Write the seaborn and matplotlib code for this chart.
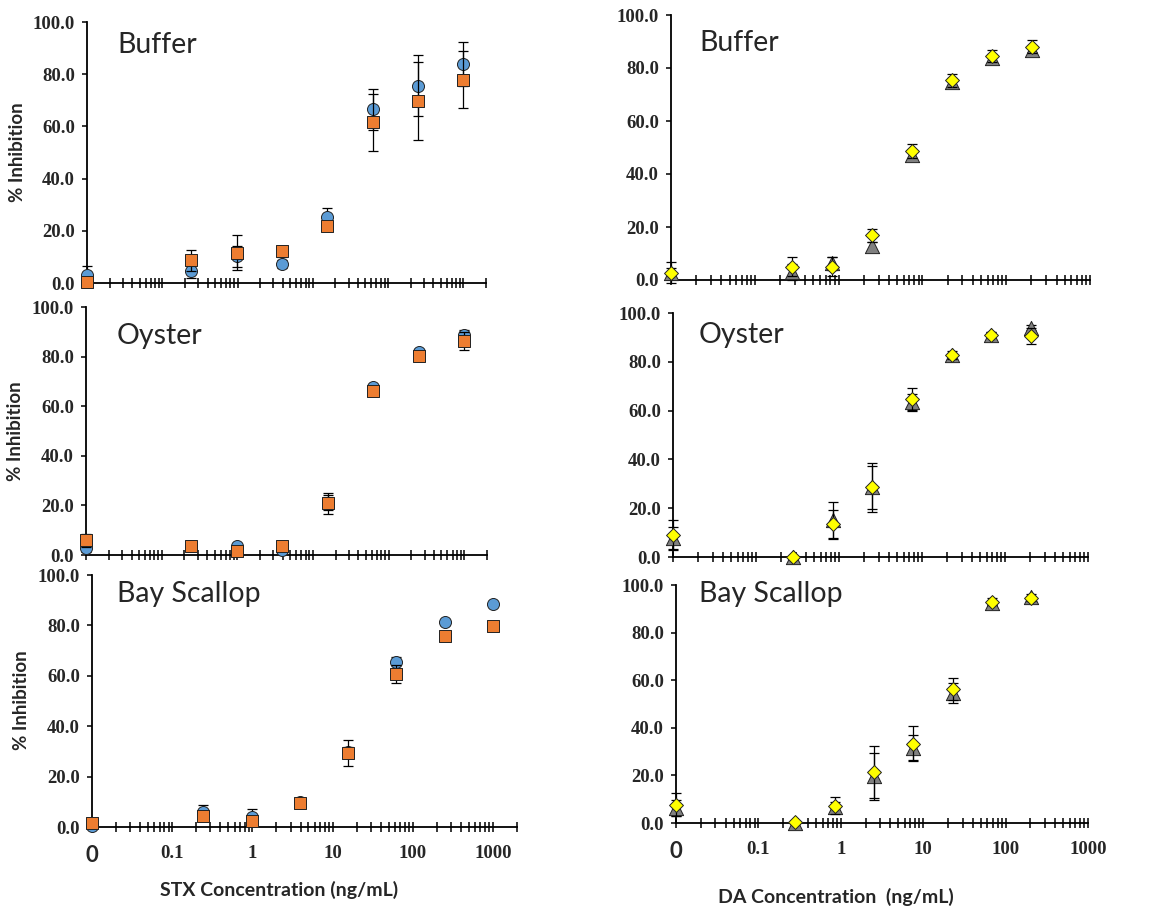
import numpy as np
import matplotlib
matplotlib.use("Agg")
import matplotlib.pyplot as plt
import seaborn as sns
from matplotlib.ticker import FixedLocator, NullFormatter

# --- data ("0" is drawn at 0.01 on the log axis) ---
stx_conc = [0.01, 0.244, 0.977, 3.91, 15.6, 62.5, 250, 1000]
da_conc = [0.01, 0.28, 0.84, 2.53, 7.6, 22.8, 68.5, 205]

buffer_stx_circle = [3.2, 4.6, 10.2, 7.2, 25.1, 66.5, 75.6, 83.8]
buffer_stx_circle_sd = [3.3, 2.6, 4.0, 1.5, 3.8, 8.0, 11.7, 8.4]
buffer_stx_square = [0.4, 8.7, 11.6, 12.1, 22.0, 61.6, 69.8, 77.9]
buffer_stx_square_sd = [1.0, 4.1, 6.6, 2.0, 1.5, 11.0, 15.0, 11.0]

oyster_stx_circle = [2.8, 3.5, 3.5, 1.9, 21.0, 67.6, 81.9, 88.6]
oyster_stx_circle_sd = [1.5, 1.0, 1.0, 1.0, 3.0, 1.0, 1.0, 2.0]
oyster_stx_square = [5.9, 3.5, 1.7, 3.5, 20.8, 66.2, 80.4, 86.2]
oyster_stx_square_sd = [2.7, 1.5, 1.0, 1.0, 4.2, 1.0, 1.0, 3.7]

scallop_stx_circle = [0.3, 6.0, 4.0, 10.0, 29.8, 65.3, 81.2, 88.5]
scallop_stx_circle_sd = [0.5, 2.6, 3.3, 1.5, 2.0, 2.3, 1.0, 0.5]
scallop_stx_square = [1.6, 4.2, 2.4, 9.7, 29.4, 60.7, 75.9, 79.6]
scallop_stx_square_sd = [0.5, 1.0, 1.0, 1.5, 5.0, 3.4, 1.0, 0.5]

buffer_da_tri = [2.5, 3.1, 6.3, 12.8, 47.2, 74.6, 83.8, 86.9]
buffer_da_tri_sd = [2.0, 3.0, 2.5, 1.5, 1.5, 1.5, 1.5, 1.0]
buffer_da_dia = [2.8, 5.0, 5.0, 16.9, 48.7, 75.3, 84.6, 88.0]
buffer_da_dia_sd = [4.1, 3.6, 3.6, 2.4, 2.7, 2.5, 2.3, 2.4]

oyster_da_tri = [7.6, 0.0, 15.0, 28.5, 63.6, 82.7, 91.1, 94.0]
oyster_da_tri_sd = [4.5, 0.5, 7.4, 8.9, 3.4, 1.0, 1.0, 1.0]
oyster_da_dia = [9.0, 0.0, 13.4, 28.5, 64.7, 82.8, 91.1, 90.7]
oyster_da_dia_sd = [6.0, 0.5, 6.0, 10.2, 4.7, 1.5, 1.0, 3.3]

scallop_da_tri = [6.3, 0.0, 6.7, 19.6, 31.7, 54.8, 92.3, 95.1]
scallop_da_tri_sd = [3.2, 0.5, 2.0, 9.8, 5.1, 4.2, 1.0, 1.0]
scallop_da_dia = [7.7, 0.3, 7.3, 21.3, 33.3, 56.2, 93.0, 94.4]
scallop_da_dia_sd = [4.9, 0.5, 3.5, 10.9, 7.3, 4.6, 1.5, 1.0]

y_ticks = [0, 20, 40, 60, 80, 100]
x_major = [0.01, 0.1, 1, 10, 100, 1000]
x_labels = ["0", "0.1", "1", "10", "100", "1000"]

sns.set_style("ticks")
plt.rcParams["font.family"] = ["Lato", "DejaVu Sans"]

W, H = 1161, 908
fig = plt.figure(figsize=(W / 100, H / 100), dpi=100)


def px_axes(x0, x1, y0, y100):
    # pixel box -> figure fraction
    return fig.add_axes([x0 / W, 1 - y0 / H, (x1 - x0) / W, (y0 - y100) / H])


def panel(box, xmax, conc, ya, ea, yb, eb, kind, title, title_x, title_base, bottom):
    ax = px_axes(*box)
    ax.set_xscale("log")
    ax.set_xlim(0.01, xmax)
    ax.set_ylim(0, 100)

    if kind == "stx":
        sty = [("o", "#5B9BD5", 75), ("s", "#ED7D31", 72)]
    else:
        sty = [("^", "#808080", 105), ("D", "#FFFF00", 50)]

    for i, (yy, ee) in enumerate([(ya, ea), (yb, eb)]):
        ax.errorbar(conc, yy, yerr=ee, fmt="none", ecolor="black",
                    elinewidth=0.9, capsize=3.5, capthick=0.9, zorder=2 + i,
                    clip_on=False)
        m, c, s = sty[i]
        sns.scatterplot(x=conc, y=yy, marker=m, color=c, s=s, edgecolor="#222222",
                        linewidth=0.7, ax=ax, zorder=3 + i, clip_on=False)

    sns.despine(ax=ax)
    for sp in ["left", "bottom"]:
        ax.spines[sp].set_linewidth(1.3)
        ax.spines[sp].set_color("black")

    minors = [m * 10.0 ** d for d in range(-2, 4) for m in range(2, 10)]
    minors = [v for v in minors if v <= xmax * 1.0001]
    ax.xaxis.set_major_locator(FixedLocator(x_major))
    ax.xaxis.set_minor_locator(FixedLocator(minors))
    ax.xaxis.set_minor_formatter(NullFormatter())
    ax.tick_params(axis="x", which="both", direction="inout", length=6.5,
                   width=1.1, color="black", pad=10)
    ax.set_yticks(y_ticks)
    ax.set_yticklabels([f"{v:.1f}" for v in y_ticks])
    ax.tick_params(axis="y", direction="out", length=3.6, width=1.1,
                   color="black", pad=5)
    for lab in ax.get_yticklabels():
        lab.set_fontfamily("Liberation Serif")
        lab.set_fontweight("bold")
        lab.set_fontsize(13.5)

    if bottom:
        ax.set_xticklabels(x_labels)
        for j, lab in enumerate(ax.get_xticklabels()):
            if j == 0:
                lab.set_fontfamily(["Lato", "DejaVu Sans"])
                lab.set_fontweight("bold")
                lab.set_fontsize(16)
            else:
                lab.set_fontfamily("Liberation Serif")
                lab.set_fontweight("bold")
                lab.set_fontsize(13.5)
    else:
        ax.set_xticklabels([])

    ax.set_xlabel("")
    ax.set_ylabel("")
    fig.text(title_x / W, 1 - title_base / H, title, fontsize=20.5,
             ha="left", va="baseline")
    return ax


# left column: STX
panel((87, 486, 283, 22), 2000, stx_conc, buffer_stx_circle, buffer_stx_circle_sd,
      buffer_stx_square, buffer_stx_square_sd, "stx", "Buffer", 117, 53, False)
panel((86, 487, 555, 307), 2000, stx_conc, oyster_stx_circle, oyster_stx_circle_sd,
      oyster_stx_square, oyster_stx_square_sd, "stx", "Oyster", 117, 344, False)
panel((92, 517, 827, 575), 2000, stx_conc, scallop_stx_circle, scallop_stx_circle_sd,
      scallop_stx_square, scallop_stx_square_sd, "stx", "Bay Scallop", 117, 602, True)

# right column: DA
panel((671, 1090, 280, 15), 1000, da_conc, buffer_da_tri, buffer_da_tri_sd,
      buffer_da_dia, buffer_da_dia_sd, "da", "Buffer", 699, 51, False)
panel((673, 1088, 557, 313), 1000, da_conc, oyster_da_tri, oyster_da_tri_sd,
      oyster_da_dia, oyster_da_dia_sd, "da", "Oyster", 699, 343, False)
panel((676, 1088, 823, 585), 1000, da_conc, scallop_da_tri, scallop_da_tri_sd,
      scallop_da_dia, scallop_da_dia_sd, "da", "Bay Scallop", 699, 602, True)

for yc, xc in [(152, 18), (431, 16), (700, 22)]:
    fig.text(xc / W, 1 - yc / H, "% Inhibition", rotation=90, fontsize=13.5,
             fontweight="bold", ha="center", va="center")

fig.text(279 / W, 1 - 890 / H, "STX Concentration (ng/mL)", fontsize=14,
         fontweight="bold", ha="center", va="center")
fig.text(836 / W, 1 - 897 / H, "DA Concentration  (ng/mL)", fontsize=14,
         fontweight="bold", ha="center", va="center")

fig.savefig("out.png", dpi=100, facecolor="white")
